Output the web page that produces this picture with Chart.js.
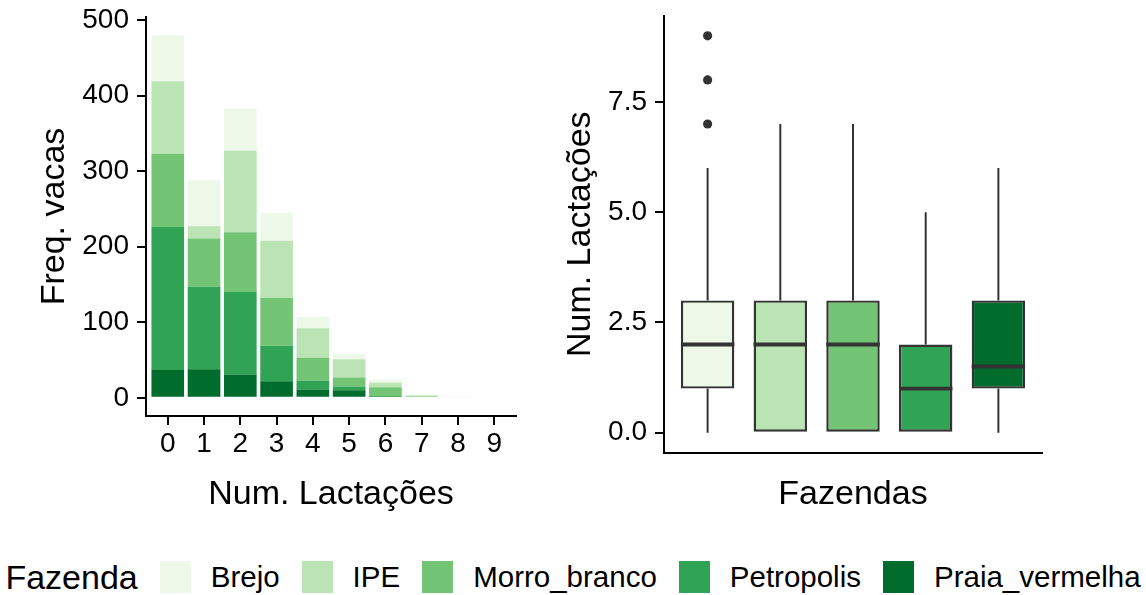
<!DOCTYPE html>
<html>
<head>
<meta charset="utf-8">
<script src="https://cdn.jsdelivr.net/npm/chart.js@4.4.1/dist/chart.umd.min.js"></script>
<style>
  html, body { margin: 0; padding: 0; background: #fff; width: 1146px; height: 595px; overflow: hidden; }
  body { position: relative; font-family: "Liberation Sans", Arial, sans-serif; color: #000; }
  #freqChart { position: absolute; left: 0; top: 0; }
  #boxChart { position: absolute; left: 540px; top: 0; }
  #legend { position: absolute; left: 0; top: 561px; width: 1146px; height: 32px;
            display: flex; align-items: center; justify-content: center; white-space: nowrap; }
  #legend .title { font-size: 34px; }
  #legend .key { width: 31px; height: 32px; margin-left: 22px; flex: none; }
  #legend .label { font-size: 29.5px; margin-left: 20px; }
</style>
</head>
<body>
<canvas id="freqChart" width="540" height="540"></canvas>
<canvas id="boxChart" width="606" height="540"></canvas>
<div id="legend"></div>
<script>
// Number of lactations per cow (x categories of the frequency chart)
const lactations = [0, 1, 2, 3, 4, 5, 6, 7, 8, 9];

// Farms, in legend order, with their Greens palette colours
const farms = ['Brejo', 'IPE', 'Morro_branco', 'Petropolis', 'Praia_vermelha'];
const farmColors = ['#EDF8E9', '#BAE4B3', '#74C476', '#31A354', '#006D2C'];

// Cows per number of lactations, by farm
const brejo        = [61, 61, 56, 37, 15,  7,  4, 1, 2, 1];
const ipe          = [96, 16, 108, 76, 39, 24,  6, 1, 0, 0];
const morroBranco  = [97, 64, 79, 63, 30, 12, 13, 2, 0, 0];
const petropolis   = [189, 109, 109, 47, 12, 5, 0, 0, 0, 0];
const praiaVermelha = [37, 38, 31, 22, 11, 10, 1, 0, 0, 0];
const countsByFarm = [brejo, ipe, morroBranco, petropolis, praiaVermelha];

// Tick values
const freqTicks = [0, 100, 200, 300, 400, 500];
const lactTicks = [0, 2.5, 5, 7.5];

// Boxplot summary of lactations per farm
const boxMin    = [0, 0, 0, 0, 0];
const boxQ1     = [1, 0, 0, 0, 1];
const boxMedian = [2, 2, 2, 1, 1.5];
const boxQ3     = [3, 3, 3, 2, 3];
const boxMax    = [6, 7, 7, 5, 6];
// Outliers: farm index and value
const outlierFarm  = [0, 0, 0];
const outlierValue = [7, 8, 9];

const FONT = '"Liberation Sans", Arial, sans-serif';
const tickFont  = { family: FONT, size: 28, lineHeight: 1.1 };
const titleFont = { family: FONT, size: 34, lineHeight: 1.2 };
const INK = '#000000';
const BOX_INK = '#333333';
const BOX_WIDTH = 0.735;

const fixedTicks = (values) => (scale) => { scale.ticks = values.map(v => ({ value: v })); };
// Fix an axis' thickness and drop the extra room Chart.js reserves for end labels
const fixedSize = (prop, size) => (scale) => {
  scale[prop] = size;
  scale.paddingTop = 0; scale.paddingBottom = 0;
  scale.paddingLeft = 0; scale.paddingRight = 0;
};

// ---------- Stacked frequency bars ----------
const barDatasets = farms.map((name, i) => ({
  label: name,
  data: lactations.map((x, j) => ({ x: x, y: countsByFarm[i][j] })),
  backgroundColor: farmColors[i],
  borderWidth: 0,
  barPercentage: 0.9,
  categoryPercentage: 1.0
})).reverse(); // last farm sits at the bottom of each stack

new Chart(document.getElementById('freqChart'), {
  type: 'bar',
  data: { datasets: barDatasets },
  options: {
    responsive: false,
    animation: false,
    events: [],
    layout: { padding: { top: 17, right: 24, left: 0, bottom: 0 } },
    plugins: { legend: { display: false }, tooltip: { enabled: false } },
    scales: {
      x: {
        type: 'linear', min: -0.6, max: 9.6, stacked: true, offset: false,
        afterBuildTicks: fixedTicks(lactations),
        afterFit: fixedSize('height', 124),
        ticks: { font: tickFont, color: INK, padding: 4, maxRotation: 0, autoSkip: false,
                 callback: (v) => String(v) },
        grid: { display: true, offset: false, drawOnChartArea: false, drawTicks: true,
                tickLength: 9, tickWidth: 2, tickColor: INK, color: INK, lineWidth: 2 },
        border: { display: true, color: INK, width: 2 },
        title: { display: true, text: 'Num. Lactações', font: titleFont, color: INK,
                 padding: { top: 0, bottom: 24.5 } }
      },
      y: {
        type: 'linear', min: -24, max: 504, stacked: true,
        afterBuildTicks: fixedTicks(freqTicks),
        afterFit: fixedSize('width', 146),
        ticks: { font: tickFont, color: INK, padding: 8, callback: (v) => String(v) },
        grid: { display: true, drawOnChartArea: false, drawTicks: true,
                tickLength: 9, tickWidth: 2, tickColor: INK, color: INK, lineWidth: 2 },
        border: { display: true, color: INK, width: 2 },
        title: { display: true, text: 'Freq. vacas', font: titleFont, color: INK,
                 padding: { top: 34.6, bottom: 0 } }
      }
    }
  }
});

// ---------- Boxplot by farm ----------
const farmIndex = farms.map((_, i) => i);
const boxes = farmIndex.map(i => ({ x: i, y: [boxQ1[i], boxQ3[i]] }));
const whiskers = [];
farmIndex.forEach(i => {
  whiskers.push({ x: i, y: boxQ3[i] }, { x: i, y: boxMax[i] }, { x: i, y: null });
  whiskers.push({ x: i, y: boxQ1[i] }, { x: i, y: boxMin[i] }, { x: i, y: null });
});
const medians = [];
farmIndex.forEach(i => {
  medians.push({ x: i - BOX_WIDTH / 2, y: boxMedian[i] },
               { x: i + BOX_WIDTH / 2, y: boxMedian[i] },
               { x: i, y: null });
});
const outliers = outlierFarm.map((f, k) => ({ x: f, y: outlierValue[k] }));

new Chart(document.getElementById('boxChart'), {
  type: 'bar',
  data: {
    datasets: [
      { type: 'line', data: whiskers, borderColor: BOX_INK, borderWidth: 2,
        pointRadius: 0, spanGaps: false, fill: false, tension: 0, order: 3 },
      { type: 'bar', data: boxes, backgroundColor: farmColors, borderColor: BOX_INK,
        borderWidth: 2.4, borderSkipped: false, barPercentage: BOX_WIDTH,
        categoryPercentage: 1.0, order: 2 },
      { type: 'line', data: medians, borderColor: BOX_INK, borderWidth: 3.8,
        borderCapStyle: 'butt', pointRadius: 0, spanGaps: false, fill: false,
        tension: 0, order: 1 },
      { type: 'scatter', data: outliers, backgroundColor: BOX_INK, borderWidth: 0,
        pointRadius: 4.6, order: 0 }
    ]
  },
  options: {
    responsive: false,
    animation: false,
    events: [],
    layout: { padding: { top: 16, right: 104, left: 0, bottom: 0 } },
    plugins: { legend: { display: false }, tooltip: { enabled: false } },
    scales: {
      x: {
        type: 'linear', min: -0.6, max: 4.6, offset: false,
        afterBuildTicks: fixedTicks(farmIndex),
        afterFit: fixedSize('height', 87.5),
        ticks: { display: false },
        grid: { display: false, offset: false },
        border: { display: true, color: INK, width: 2 },
        title: { display: true, text: 'Fazendas', font: titleFont, color: INK,
                 padding: { top: 0, bottom: 24.5 } }
      },
      y: {
        type: 'linear', min: -0.45, max: 9.45,
        afterBuildTicks: fixedTicks(lactTicks),
        afterFit: fixedSize('width', 124),
        ticks: { font: tickFont, color: INK, padding: 8, callback: (v) => v.toFixed(1) },
        grid: { display: true, drawOnChartArea: false, drawTicks: true,
                tickLength: 9, tickWidth: 2, tickColor: INK, color: INK, lineWidth: 2 },
        border: { display: true, color: INK, width: 2 },
        title: { display: true, text: 'Num. Lactações', font: titleFont, color: INK,
                 padding: { top: 20.6, bottom: 0 } }
      }
    }
  }
});

// ---------- Shared legend ----------
const legend = document.getElementById('legend');
const legendTitle = document.createElement('span');
legendTitle.className = 'title';
legendTitle.textContent = 'Fazenda';
legend.appendChild(legendTitle);
farms.forEach((name, i) => {
  const key = document.createElement('span');
  key.className = 'key';
  key.style.background = farmColors[i];
  legend.appendChild(key);
  const label = document.createElement('span');
  label.className = 'label';
  label.textContent = name;
  legend.appendChild(label);
});
</script>
</body>
</html>
